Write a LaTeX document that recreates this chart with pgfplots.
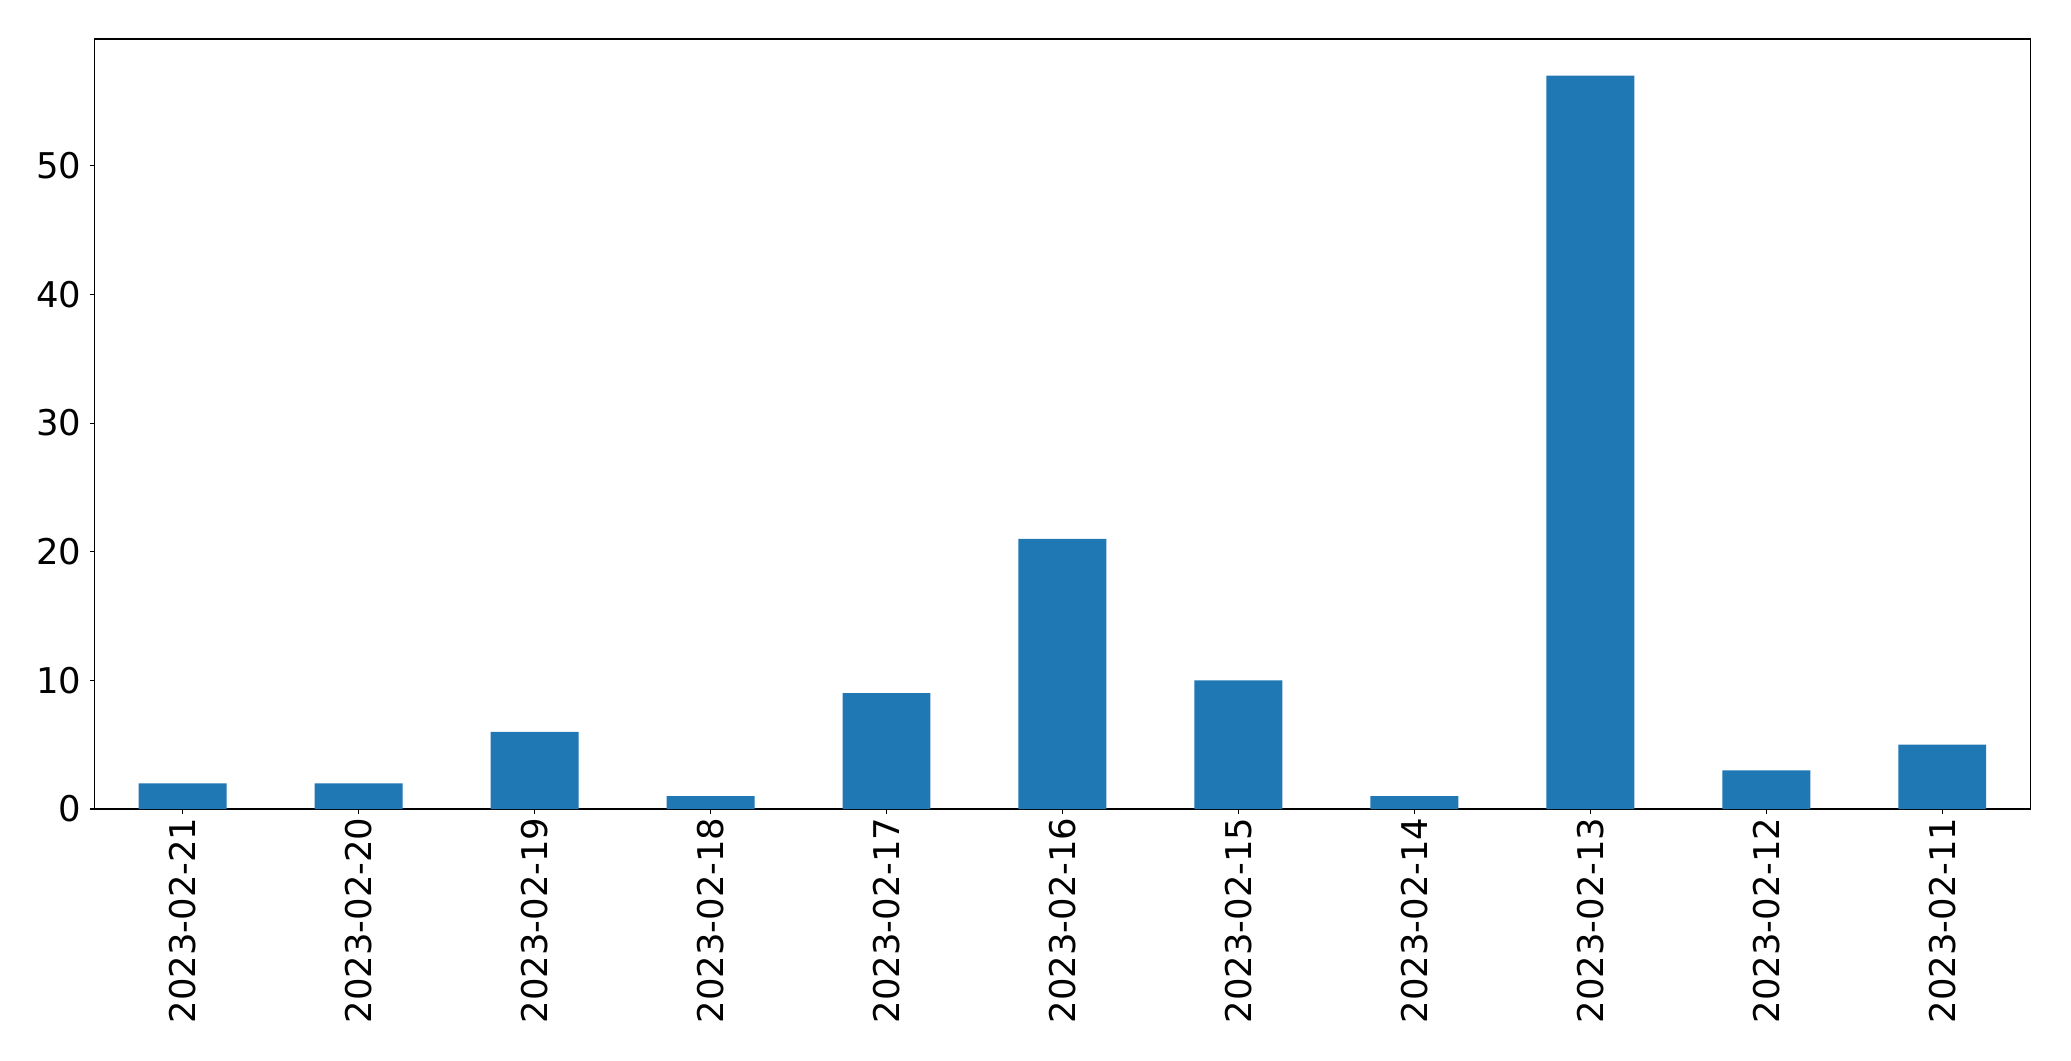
\documentclass[border=0pt]{standalone}
\usepackage{fontspec}
\setmainfont{DejaVu Sans}
\usepackage{pgfplots}
\pgfplotsset{compat=1.18}
\definecolor{mplblue}{HTML}{1F77B4}

\begin{document}
\begin{tikzpicture}
\begin{axis}[
    at={(0,0)}, anchor=south west,
    scale only axis,
    width=19.355in, height=7.70in,
    xmin=-0.5, xmax=10.5,
    ymin=0, ymax=59.85,
    ybar, bar width=0.5,
    xtick={0,...,10},
    xticklabels={2023-02-21,2023-02-20,2023-02-19,2023-02-18,2023-02-17,2023-02-16,2023-02-15,2023-02-14,2023-02-13,2023-02-12,2023-02-11},
    ytick={0,10,...,50},
    tick align=outside,
    xtick pos=bottom, ytick pos=left,
    major tick length=0.047in,
    tick style={black, line width=0.75pt},
    axis line style={line width=0.75pt},
    /pgf/number format/assume math mode=true,
    tick label style={font=\fontsize{25.6pt}{31pt}\selectfont, inner sep=0pt},
    xticklabel style={rotate=90, anchor=east},
    xticklabel shift=2.5pt,
    yticklabel shift=6pt,
]
\addplot[fill=mplblue, draw=none] coordinates {
    (0,2) (1,2) (2,6) (3,1) (4,9) (5,21) (6,10) (7,1) (8,57) (9,3) (10,5)
};
\end{axis}
\path (-0.947in,-2.515in) rectangle (19.763in,8.09in);
\end{tikzpicture}
\end{document}
